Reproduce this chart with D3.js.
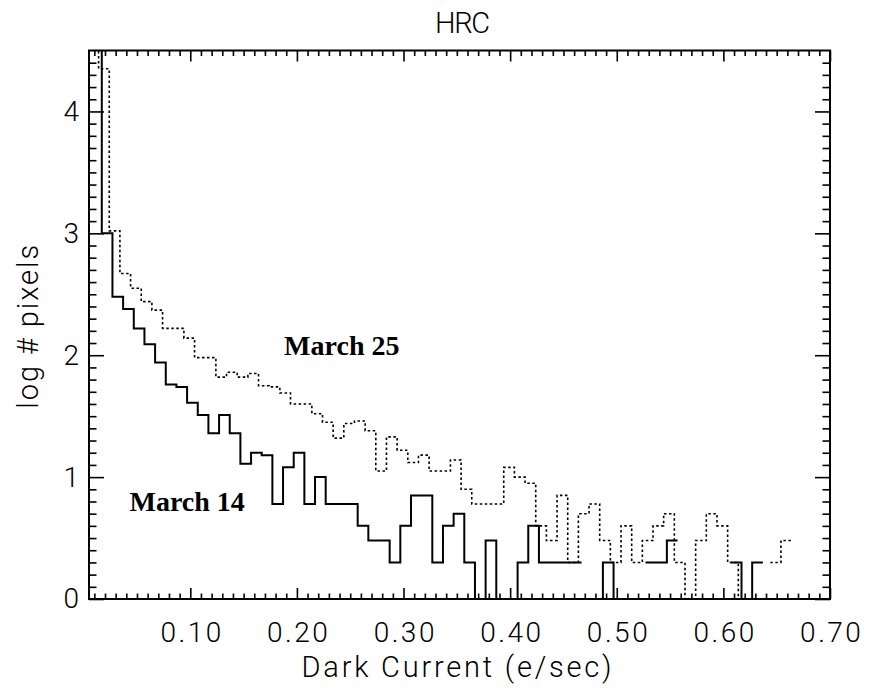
<!DOCTYPE html>
<html>
<head>
<meta charset="utf-8">
<script src="https://cdn.jsdelivr.net/npm/d3@7"></script>
<style>
  body { margin: 0; background: #fff; }
  svg { display: block; }
</style>
</head>
<body>
<svg id="chart" width="869" height="688"></svg>
<script>
// ---------------- data ----------------
const title = "HRC";
const xTitle = "Dark Current (e/sec)";
const yTitle = "log # pixels";
const xDomain = [0.005, 0.70];
const yDomain = [0, 4.5];
const xMajorTicks = [0.10, 0.20, 0.30, 0.40, 0.50, 0.60, 0.70];
const yMajorTicks = [0, 1, 2, 3, 4];
const binWidth = 0.01;

// March 14 (solid): log10(count) per bin, bins start at 0.007; null = empty bin
const march14Start = 0.007;
const march14 = [5.0, 3.00, 2.48, 2.38, 2.22, 2.09, 1.94, 1.76, 1.74, 1.61,
  1.51, 1.36, 1.51, 1.36, 1.11, 1.20, 1.18, 0.78, 1.08, 1.20,
  0.78, 1.00, 0.78, 0.78, 0.78, 0.60, 0.48, 0.48, 0.30, 0.60,
  0.85, 0.85, 0.30, 0.60, 0.70, 0.30, 0, 0.48, 0, 0,
  0.30, 0.60, 0.30, 0.30, 0.30, 0.30, null, 0, 0.30, 0,
  0, null, 0.30, 0.30, 0.48, null, null, null, null, null,
  0.30, 0, 0.30];

// March 25 (dotted): log10(count) per bin, bins start at 0.004
const march25Start = 0.004;
const march25 = [4.9, 4.35, 3.02, 2.67, 2.55, 2.44, 2.37, 2.22, 2.22, 2.14,
  1.98, 1.98, 1.82, 1.86, 1.82, 1.85, 1.75, 1.74, 1.69, 1.60,
  1.60, 1.52, 1.45, 1.32, 1.44, 1.46, 1.38, 1.05, 1.33, 1.22,
  1.12, 1.18, 1.05, 1.05, 1.14, 0.90, 0.78, 0.78, 0.78, 1.08,
  1.00, 0.95, 0.60, 0.48, 0.85, 0.30, 0.70, 0.78, 0.48, 0.30,
  0.60, 0.30, 0.48, 0.60, 0.70, 0.30, 0, 0.48, 0.70, 0.60,
  0.30, 0, null, null, 0.30, 0.48];

const labels = [
  { text: "March 25", x: 0.188, y: 2.0 },
  { text: "March 14", x: 0.043, y: 0.72 }
];

// ---------------- drawing ----------------
const svg = d3.select("#chart");
const W = 869, H = 688;
const plot = { left: 89, right: 830, top: 50.5, bottom: 599 };

svg.append("rect").attr("width", W).attr("height", H).attr("fill", "#fff");

const x = d3.scaleLinear().domain(xDomain).range([plot.left, plot.right]);
const y = d3.scaleLinear().domain(yDomain).range([plot.bottom, plot.top]);

const axisFont = "Roboto, 'DejaVu Sans', sans-serif";

svg.append("defs").append("clipPath").attr("id", "clip")
  .append("rect")
  .attr("x", plot.left).attr("y", plot.top)
  .attr("width", plot.right - plot.left).attr("height", plot.bottom - plot.top);

// histogram step paths
function stepPoints(start, vals) {
  const pts = [];
  vals.forEach((v, i) => {
    if (v == null) { pts.push(null); return; }
    const x0 = start + i * binWidth, x1 = x0 + binWidth;
    pts.push([x0, v], [x1, v]);
  });
  return pts;
}
const line = d3.line()
  .defined(d => d !== null)
  .x(d => x(d[0]))
  .y(d => y(d[1]));

const g = svg.append("g").attr("clip-path", "url(#clip)");
g.append("path")
  .attr("d", line(stepPoints(march25Start, march25)))
  .attr("fill", "none").attr("stroke", "#000")
  .attr("stroke-width", 1.6).attr("stroke-dasharray", "2.5,2.5");
g.append("path")
  .attr("d", line(stepPoints(march14Start, march14)))
  .attr("fill", "none").attr("stroke", "#000")
  .attr("stroke-width", 2);

// minor ticks
const xMinor = d3.range(1, 70).filter(i => i % 10 !== 0).map(i => i / 100);
const yMinor = d3.range(1, 45).filter(i => i % 10 !== 0).map(i => i / 10);

function styleAxis(sel) {
  sel.select(".domain").remove();
  sel.selectAll(".tick line").attr("stroke", "#000").attr("stroke-width", 1.6);
  sel.selectAll("text")
    .attr("fill", "#000")
    .style("font-family", axisFont)
    .style("font-weight", 300)
    .style("font-size", "28px");
}

// bottom
svg.append("g").attr("transform", `translate(0,${plot.bottom})`)
  .call(d3.axisBottom(x).tickValues(xMajorTicks).tickSize(-11).tickPadding(23)
    .tickFormat(d3.format(".2f")))
  .call(styleAxis)
  .call(s => s.selectAll("text").style("letter-spacing", "2.5px").attr("dx", "1.25"));
svg.append("g").attr("transform", `translate(0,${plot.bottom})`)
  .call(d3.axisBottom(x).tickValues(xMinor).tickSize(-5.5).tickFormat(""))
  .call(styleAxis);
// top
svg.append("g").attr("transform", `translate(0,${plot.top})`)
  .call(d3.axisTop(x).tickValues(xMajorTicks).tickSize(-11).tickFormat(""))
  .call(styleAxis);
svg.append("g").attr("transform", `translate(0,${plot.top})`)
  .call(d3.axisTop(x).tickValues(xMinor).tickSize(-5.5).tickFormat(""))
  .call(styleAxis);
// left
svg.append("g").attr("transform", `translate(${plot.left},0)`)
  .call(d3.axisLeft(y).tickValues(yMajorTicks).tickSize(-15).tickPadding(10)
    .tickFormat(d3.format("d")))
  .call(styleAxis);
svg.append("g").attr("transform", `translate(${plot.left},0)`)
  .call(d3.axisLeft(y).tickValues(yMinor).tickSize(-7.5).tickFormat(""))
  .call(styleAxis);
// right
svg.append("g").attr("transform", `translate(${plot.right},0)`)
  .call(d3.axisRight(y).tickValues(yMajorTicks).tickSize(-15).tickFormat(""))
  .call(styleAxis);
svg.append("g").attr("transform", `translate(${plot.right},0)`)
  .call(d3.axisRight(y).tickValues(yMinor).tickSize(-7.5).tickFormat(""))
  .call(styleAxis);

// frame
svg.append("rect")
  .attr("x", plot.left).attr("y", plot.top)
  .attr("width", plot.right - plot.left).attr("height", plot.bottom - plot.top)
  .attr("fill", "none").attr("stroke", "#000").attr("stroke-width", 2);

// titles
svg.append("text")
  .attr("x", (plot.left + plot.right) / 2 + 3).attr("y", 33)
  .attr("text-anchor", "middle")
  .attr("textLength", 55).attr("lengthAdjust", "spacing")
  .style("font-family", axisFont).style("font-weight", 300).style("font-size", "29px")
  .text(title);
svg.append("text")
  .attr("x", (plot.left + plot.right) / 2 - 3).attr("y", 677)
  .attr("text-anchor", "middle")
  .attr("textLength", 310).attr("lengthAdjust", "spacing")
  .style("font-family", axisFont).style("font-weight", 300).style("font-size", "29px")
  .text(xTitle);
svg.append("text")
  .attr("transform", `translate(38,${(plot.top + plot.bottom) / 2 + 2}) rotate(-90)`)
  .attr("text-anchor", "middle")
  .attr("textLength", 164).attr("lengthAdjust", "spacing")
  .style("font-family", axisFont).style("font-weight", 300).style("font-size", "29px")
  .text(yTitle);

// annotations
svg.selectAll("text.ann").data(labels).join("text")
  .attr("class", "ann")
  .attr("x", d => x(d.x)).attr("y", d => y(d.y))
  .style("font-family", "'Liberation Serif', 'Times New Roman', serif")
  .style("font-weight", "bold").style("font-size", "28px")
  .text(d => d.text);
</script>
</body>
</html>
